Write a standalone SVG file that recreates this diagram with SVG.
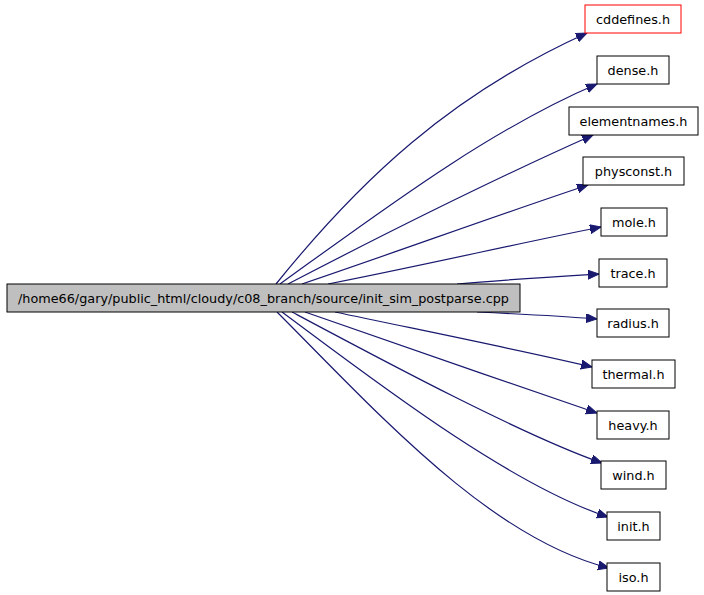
<svg xmlns="http://www.w3.org/2000/svg" width="704" height="595" viewBox="0 0 704 595">
<style>
.n rect{fill:#fff;stroke:#000;stroke-width:1}
.n text{font-family:"DejaVu Sans",sans-serif;font-size:12.8px;text-anchor:middle;fill:#000}
.e path{fill:none;stroke:#191970;stroke-width:1.2;marker-end:url(#ah)}
</style>
<defs>
<marker id="ah" markerUnits="userSpaceOnUse" markerWidth="13" markerHeight="10" refX="11" refY="4.5" orient="auto">
<path d="M0,0 L11,4.5 L0,9 z" fill="#191970" stroke="#191970" stroke-width="1"/>
</marker>
</defs>
<rect width="704" height="595" fill="#fff"/>
<g class="e" id="edges">
<path d="M276,284 C360,180 450,95 587,33"/>
<path d="M280,284 C380,212 487,131 597,84"/>
<path d="M288,284 C388,232 503,175 593,135"/>
<path d="M302,284 C402,250 498,215 588,185"/>
<path d="M328,284 C420,266 520,243 601,227"/>
<path d="M457,284 C500,280 550,277 599,274"/>
<path d="M477,312 C520,314 560,316 597,319"/>
<path d="M335,312 C420,330 520,350 592,367"/>
<path d="M305,312 C400,345 500,380 597,413"/>
<path d="M292,312 C382,360 522,435 602,463"/>
<path d="M282,312 C372,379 508,484 608,517"/>
<path d="M277,312 C377,412 489,538 609,568"/>
</g>
<g class="n" id="main"><rect x="7" y="284" width="513" height="28" style="fill:#bfbfbf"/><text x="263.5" y="302.5">/home66/gary/public_html/cloudy/c08_branch/source/init_sim_postparse.cpp</text></g>
<g class="n" id="cddefines"><rect x="585" y="5" width="96" height="28" style="stroke:#ff0000"/><text x="633" y="23.5">cddefines.h</text></g>
<g class="n" id="dense"><rect x="597" y="56" width="72" height="28"/><text x="633" y="74.5">dense.h</text></g>
<g class="n" id="elementnames"><rect x="569" y="107" width="129" height="28"/><text x="633.5" y="125.5">elementnames.h</text></g>
<g class="n" id="physconst"><rect x="583" y="157" width="101" height="28"/><text x="633.5" y="175.5">physconst.h</text></g>
<g class="n" id="mole"><rect x="601" y="208" width="66" height="28"/><text x="634" y="226.5">mole.h</text></g>
<g class="n" id="trace"><rect x="599" y="259" width="68" height="28"/><text x="633" y="277.5">trace.h</text></g>
<g class="n" id="radius"><rect x="597" y="309" width="72" height="28"/><text x="633" y="327.5">radius.h</text></g>
<g class="n" id="thermal"><rect x="592" y="360" width="83" height="28"/><text x="633.5" y="378.5">thermal.h</text></g>
<g class="n" id="heavy"><rect x="597" y="411" width="72" height="28"/><text x="633" y="429.5">heavy.h</text></g>
<g class="n" id="wind"><rect x="601" y="461" width="65" height="28"/><text x="633.5" y="479.5">wind.h</text></g>
<g class="n" id="init"><rect x="607" y="512" width="53" height="28"/><text x="633.5" y="530.5">init.h</text></g>
<g class="n" id="iso"><rect x="607" y="563" width="53" height="28"/><text x="633.5" y="581.5">iso.h</text></g>
</svg>
